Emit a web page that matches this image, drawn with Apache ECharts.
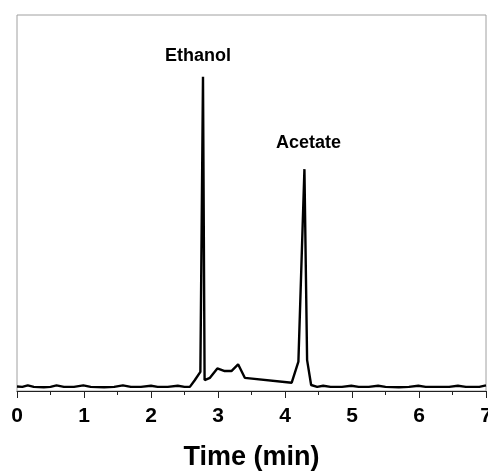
<!DOCTYPE html>
<html>
<head>
<meta charset="utf-8">
<script src="https://cdn.jsdelivr.net/npm/echarts@6/dist/echarts.min.js"></script>
<style>html,body{margin:0;padding:0;background:#fff;}#c{width:488px;height:471px;}</style>
</head>
<body>
<div id="c"></div>
<script>
const times = [0.00,0.08,0.16,0.25,0.40,0.50,0.59,0.70,0.85,0.99,1.10,1.30,1.45,1.58,1.70,1.85,2.00,2.10,2.25,2.40,2.50,2.58,2.65,2.737,2.776,2.80,2.88,2.99,3.10,3.20,3.30,3.40,4.10,4.20,4.26,4.29,4.33,4.39,4.48,4.57,4.68,4.85,4.99,5.10,5.25,5.39,5.50,5.70,5.85,5.99,6.10,6.30,6.45,6.58,6.70,6.90,7.00];
const signal = [1.2,1.1,1.5,1.1,1.0,1.1,1.5,1.1,1.1,1.5,1.1,1.0,1.1,1.5,1.1,1.1,1.4,1.1,1.1,1.4,1.1,1.1,2.8,5.1,83.6,2.9,3.5,6.0,5.3,5.3,7.1,3.5,2.2,7.8,42,59,8.2,1.6,1.1,1.4,1.1,1.1,1.4,1.1,1.1,1.4,1.1,1.0,1.1,1.4,1.1,1.1,1.1,1.4,1.1,1.1,1.5];
const peakNames = ['Ethanol','Acetate'];
const peakTimes = [2.776, 4.29];
const peakValues = [83.6, 59];
const xTicks = [0,1,2,3,4,5,6,7];

const chart = echarts.init(document.getElementById('c'), null, {renderer:'canvas'});
const data = times.map((t,i)=>[t, signal[i]]);
chart.setOption({
  animation:false,
  grid:{left:17, right:2, top:15, bottom:80, outerBoundsMode:'none', containLabel:false, show:true, borderColor:'#a0a0a0', borderWidth:1, backgroundColor:'transparent'},
  xAxis:{
    type:'value', min:0, max:7, interval:1,
    name:'Time (min)', nameLocation:'middle', nameGap:53,
    nameTextStyle:{fontFamily:'Liberation Sans', fontWeight:'bold', fontSize:27, color:'#000'},
    axisLine:{show:true, lineStyle:{color:'#222', width:1}},
    axisTick:{show:true, inside:false, length:7, lineStyle:{color:'#222', width:1}},
    minorTick:{show:true, splitNumber:2, length:4, lineStyle:{color:'#222', width:1}},
    splitLine:{show:false},
    axisLabel:{margin:15, fontFamily:'Liberation Sans', fontWeight:'bold', fontSize:21, color:'#000',
      formatter:(v)=> xTicks.includes(v) ? String(v) : ''}
  },
  yAxis:{type:'value', min:0, max:100, show:false, splitLine:{show:false}},
  series:[{
    type:'line', data:data, symbol:'none', smooth:false,
    lineStyle:{color:'#000', width:2.4},
    markPoint:{
      symbol:'circle', symbolSize:0,
      label:{show:true, fontFamily:'Liberation Sans', fontWeight:'bold', fontSize:18, color:'#000'},
      data:[
        {coord:[peakTimes[0], peakValues[0]], value:peakNames[0], label:{formatter:peakNames[0], offset:[-5,-21]}},
        {coord:[peakTimes[1], peakValues[1]], value:peakNames[1], label:{formatter:peakNames[1], offset:[4,-26]}}
      ]
    }
  }]
});
</script>
</body>
</html>
